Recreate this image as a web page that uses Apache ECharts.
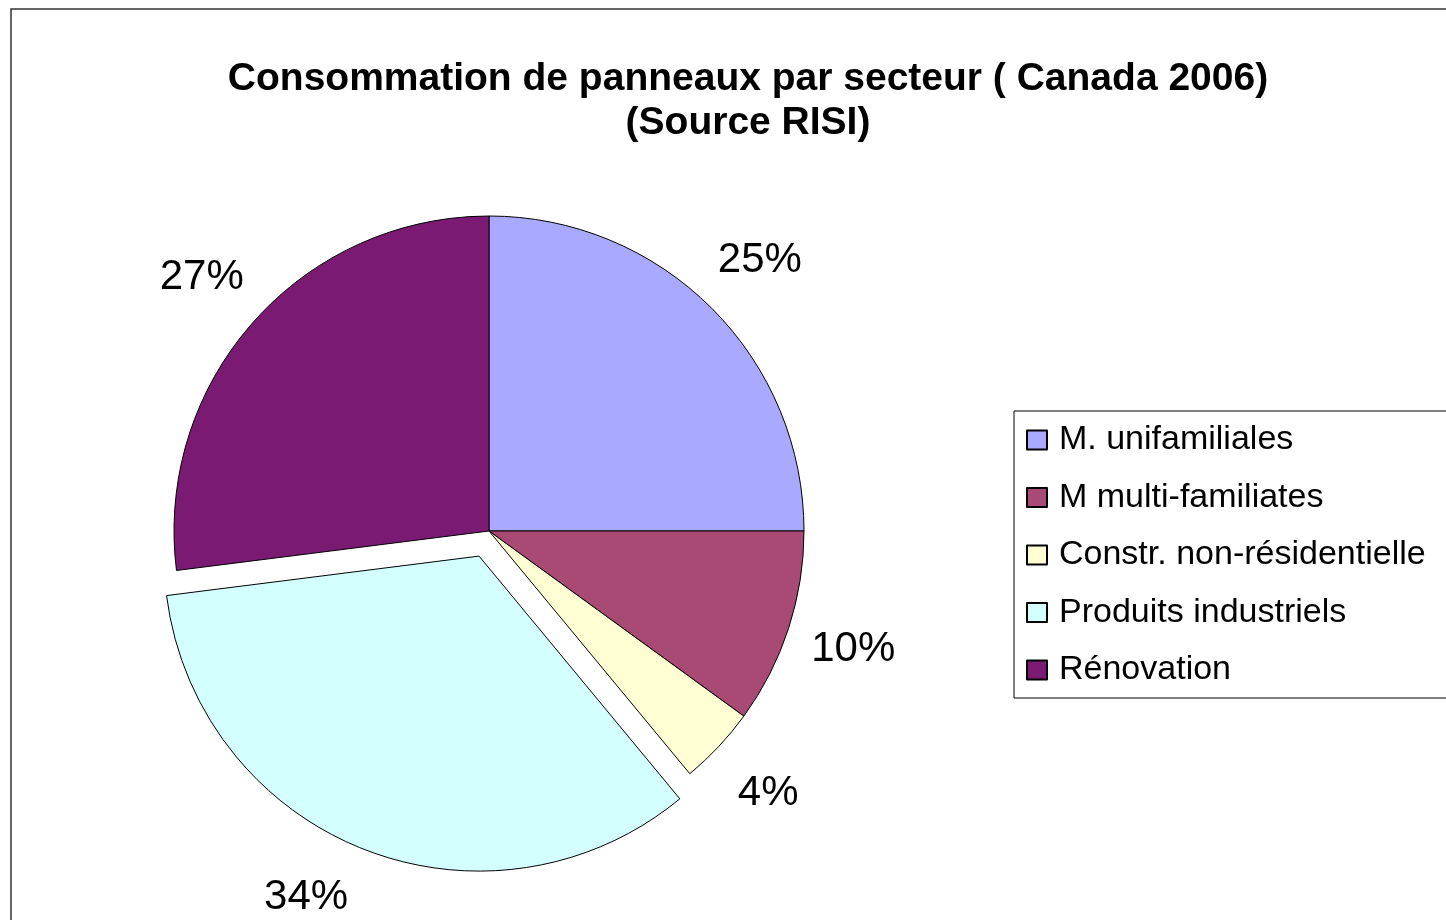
<!DOCTYPE html>
<html>
<head>
<meta charset="utf-8">
<script src="https://cdn.jsdelivr.net/npm/echarts@6/dist/echarts.min.js"></script>
<style>
  html, body { margin: 0; padding: 0; background: #fff; }
  #container { width: 1446px; height: 920px; }
</style>
</head>
<body>
<div id="container"></div>
<script>
// données du graphique
var secteurs = ['M. unifamiliales', 'M multi-familiates', 'Constr. non-résidentielle', 'Produits industriels', 'Rénovation'];
var parts = [25, 10, 4, 34, 27];
var couleurs = ['#A9A9FF', '#A84A74', '#FFFFD3', '#D3FFFF', '#7A1A73'];
var detache = 'Produits industriels';

var dom = document.getElementById('container');
var myChart = echarts.init(dom);

var dataPie = [];
var dataLabels = [];
for (var i = 0; i < secteurs.length; i++) {
    dataPie.push({
        name: secteurs[i],
        value: parts[i],
        selected: secteurs[i] === detache,
        itemStyle: { color: couleurs[i] }
    });
    var lbl = {
        name: secteurs[i],
        value: parts[i],
        selected: secteurs[i] === detache
    };
    // l'étiquette de la part détachée est un peu décalée (vers la gauche et le haut)
    if (secteurs[i] === detache) {
        lbl.label = { padding: [0, 64, 0, 0], formatter: '{c}%\n ', lineHeight: 30 };
    }
    dataLabels.push(lbl);
}

myChart.setOption({
    animation: false,
    backgroundColor: '#fff',
    title: {
        text: 'Consommation de panneaux par secteur ( Canada 2006)\n(Source RISI)',
        left: 743,
        top: 52,
        textAlign: 'center',
        textVerticalAlign: 'top',
        textStyle: {
            fontFamily: 'Liberation Sans',
            fontWeight: 'bold',
            fontSize: 39,
            lineHeight: 44,
            color: '#000'
        }
    },
    legend: {
        orient: 'vertical',
        left: 1014,
        top: 411,
        padding: [12, 40, 11, 12],
        itemGap: 23.5,
        itemWidth: 20,
        itemHeight: 19,
        icon: 'rect',
        borderColor: '#000',
        borderWidth: 1,
        data: secteurs,
        textStyle: {
            fontFamily: 'Liberation Sans',
            fontSize: 34,
            color: '#000',
            padding: [0, 0, 0, 7]
        }
    },
    graphic: [{
        type: 'rect',
        shape: { x: 11, y: 9, width: 1500, height: 1000 },
        style: { fill: 'none', stroke: '#333', lineWidth: 1.5 },
        silent: true,
        z: -1
    }],
    series: [{
        type: 'pie',
        center: [489, 531],
        radius: 315,
        startAngle: 90,
        clockwise: true,
        selectedMode: 'single',
        selectedOffset: 27,
        data: dataPie,
        label: { show: false },
        labelLine: { show: false },
        itemStyle: { borderColor: '#000', borderWidth: 1 },
        emphasis: { disabled: true },
        select: { itemStyle: { borderColor: '#000', borderWidth: 1 } }
    }, {
        // série transparente pour placer les étiquettes de pourcentage
        type: 'pie',
        center: [489, 531],
        radius: [345, 415],
        startAngle: 90,
        clockwise: true,
        selectedMode: 'single',
        selectedOffset: 27,
        silent: true,
        data: dataLabels,
        itemStyle: { color: 'rgba(0,0,0,0)', borderWidth: 0 },
        label: {
            show: true,
            position: 'inside',
            formatter: '{c}%',
            fontFamily: 'Liberation Sans',
            fontSize: 42,
            color: '#000'
        },
        labelLine: { show: false },
        emphasis: { disabled: true },
        select: { itemStyle: { color: 'rgba(0,0,0,0)', borderWidth: 0 } }
    }]
});
</script>
</body>
</html>
